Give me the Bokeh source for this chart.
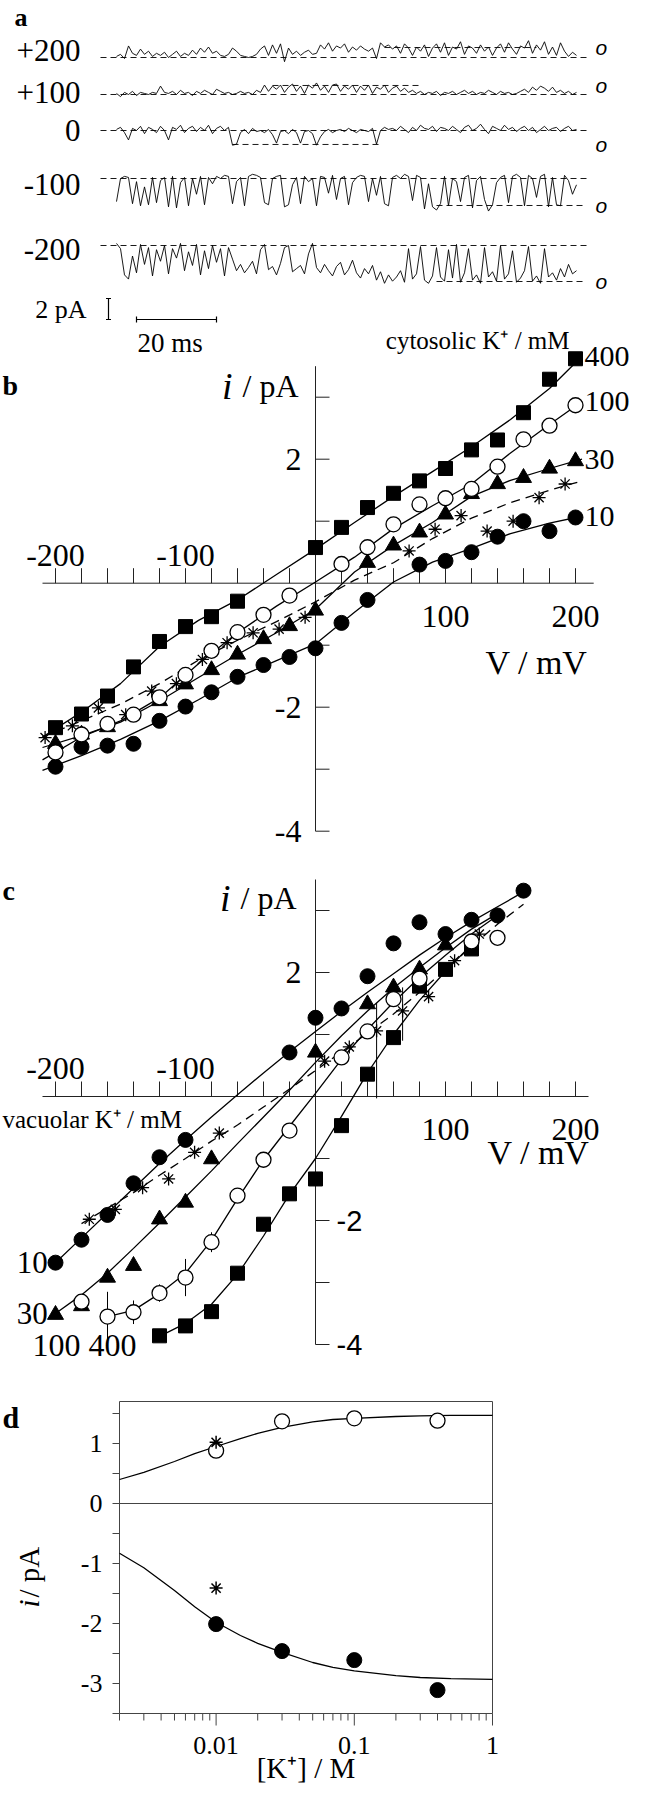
import math
from bokeh.plotting import figure
from bokeh.models import Range1d
from bokeh.layouts import column
from bokeh.embed import file_html
from bokeh.resources import INLINE
from bokeh.core.properties import value

SERIF = "Liberation Serif"
SANS = "Liberation Sans"

# ======================= DATA =======================
# ---- panel a: single-channel records, pA relative to closed level, 1 ms/sample
a_voltages = ["+200", "+100", "0", "-100", "-200"]
a_time_ms = list(range(116))
a_trace_p200 = [0.1, 0.3, -0.1, 1.1, 0.4, 0.2, 0.8, 0.3, 0.6, 0.1,
                0.4, 0.2, 0.5, 0.0, 0.3, 0.6, 0.1, 0.4, 0.2, 0.7,
                0.3, 0.9, 0.5, 1.0, 0.4, 0.6, 0.2, 0.1, 0.3, 0.9,
                0.6, 0.2, 0.1, 0.0, 0.1, 0.3, 0.8, 1.1, 0.2, 1.2,
                0.4, 1.3, -0.4, 0.9, 0.3, 0.6, 0.2, 0.5, 0.7, 0.3,
                0.4, 1.2, 0.8, 1.4, 0.6, 1.1, 0.9, 1.3, 0.5, 1.0,
                0.7, 1.1, 0.8, 0.6, 0.9, -0.1, 1.4, 1.0, 1.2, 0.8,
                1.1, 0.4, 1.3, 0.9, 0.2, 1.0, 0.6, 1.2, 0.1, 0.9,
                1.3, 0.5, 1.4, 0.2, 1.0, 0.8, 1.5, 0.3, 1.1, 0.9,
                0.4, 1.2, 0.6, 1.0, 0.2, 0.9, 1.3, 0.5, 1.4, 0.8,
                0.3, 1.1, 0.9, 1.6, 0.4, 1.2, 0.7, 1.5, 0.3, 1.0,
                0.2, 1.4, 0.6, 0.1, 0.5, 0.2]
a_trace_p100 = [0.1, -0.2, 0.2, 0.0, 0.3, -0.1, 0.2, 0.1, 0.0, 0.2,
                0.1, 0.8, 0.2, 0.1, 0.3, 0.0, 0.4, 0.1, 0.2, -0.1,
                0.3, 0.1, 0.4, 0.2, 0.0, 0.5, 0.3, 0.1, 0.2, 0.0,
                0.1, 0.3, 0.1, 0.2, 0.0, 0.4, 0.2, 0.9, 0.3, 0.8,
                0.5, 0.9, 0.2, 0.7, 1.0, 0.3, 0.8, 0.1, 0.9, 0.6,
                1.1, 0.4, 0.8, 0.2, 0.9, 1.0, 0.3, 0.8, 0.5, 0.9,
                0.2, 0.8, 0.4, 0.9, 0.1, 0.7, 0.5, 0.9, 0.2, 0.6,
                0.8, 0.3, 0.6, 0.2, 0.4, 0.1, 0.3, 0.0, 0.2, 0.1,
                0.3, -0.1, 0.2, 0.1, 0.3, 0.0, 0.2, 0.4, 0.1, 0.3,
                0.0, 0.2, 0.1, 0.4, 0.2, 0.0, 0.3, 0.1, 0.2, 0.0,
                0.1, 0.3, 0.5, 0.2, 0.7, 0.4, 0.8, 0.6, 0.3, 0.7,
                0.2, 0.4, 0.1, 0.3, 0.0, 0.2]
a_trace_0 = [0.1, 0.3, -0.2, -0.9, 0.2, 0.0, 0.4, -0.3, 0.3, 0.1,
             -0.2, 0.4, 0.0, -0.9, 0.3, 0.1, 0.5, -0.2, 0.2, 0.4,
             -0.1, 0.3, 0.0, 0.5, -0.3, 0.2, 0.4, 0.0, 0.3, -1.4,
             -1.3, -0.2, 0.1, -0.3, 0.2, -0.1, 0.0, -0.2, 0.1, -0.4,
             -1.2, -0.1, 0.0, -0.3, 0.1, -0.2, -1.2, -0.1, 0.0, -0.3,
             -1.4, -0.6, -0.1, 0.1, -0.2, 0.0, 0.1, -0.1, 0.2, 0.0,
             -0.2, 0.1, 0.0, -0.1, 0.2, -1.3, 0.0, 0.3, 0.1, 0.2,
             0.0, 0.4, 0.1, -0.2, 0.3, 0.0, 0.5, 0.2, 0.1, 0.4,
             -0.1, 0.3, 0.2, 0.0, 0.4, 0.1, -0.2, 0.3, 0.5, 0.0,
             0.2, 0.6, 0.1, -0.3, 0.4, 0.2, 0.0, 0.5, 0.1, 0.3,
             -0.1, 0.2, 0.4, 0.0, 0.3, -0.2, 0.1, 0.4, 0.0, 0.2,
             0.3, -0.1, 0.2, 0.4, 0.0, 0.1]
a_trace_m100 = [-2.2, 0.0, 0.2, 0.1, -2.4, -0.3, -2.6, -0.8, -2.5, 0.1,
                -2.3, -0.2, 0.1, -2.7, 0.2, -2.8, -0.4, 0.1, -2.6, 0.0,
                -1.5, 0.2, -2.5, 0.1, -0.5, 0.2, 0.0, 0.3, 0.2, -2.4,
                -0.3, 0.1, -2.6, 0.2, 0.4, 0.3, 0.1, -2.3, -2.5, 0.0,
                0.2, 0.3, -2.7, -2.5, -0.6, 0.1, -2.4, 0.2, -0.3, 0.0,
                -2.6, 0.2, 0.1, -1.4, 0.3, -2.0, 0.0, 0.2, -2.5, -0.4,
                0.1, 0.3, 0.2, -2.2, 0.0, -1.6, 0.2, -2.4, -2.6, 0.1,
                0.3, 0.0, 0.4, 0.2, -2.1, 0.3, 0.1, -2.9, -0.5, -2.7,
                -3.0, -2.4, 0.2, -2.6, 0.0, -0.3, -2.2, 0.1, 0.3, -2.8,
                -0.2, 0.2, -2.0, -3.1, -2.5, -0.4, 0.1, 0.3, -2.3, 0.2,
                0.4, 0.1, -2.6, 0.3, 0.0, -1.8, 0.2, 0.4, -2.7, 0.1,
                -2.5, -2.6, 0.3, -0.2, -1.5, -0.6]
a_trace_m200 = [0.2, -0.3, -2.8, -3.2, -1.0, -2.6, 0.1, -1.8, -0.2, -2.9,
                -0.4, -1.5, 0.0, -2.7, -0.3, -1.2, 0.2, -2.4, -0.6, -1.9,
                0.1, -2.8, -0.5, -2.2, 0.0, -1.6, -0.3, -2.9, -0.2, -1.3,
                -2.4, -1.8, -2.6, -2.1, -1.5, -2.7, -0.4, 0.1, -2.3, -2.0,
                -2.8, -1.7, -0.2, 0.0, -2.5, -2.2, -1.9, -2.7, -0.8, 0.2,
                -2.1, -2.6, -1.8, -2.4, -2.9, -2.0, -1.6, -2.8, -2.3, -1.4,
                -2.6, -3.1, -2.2, -2.7, -1.9, -3.3, -2.5, -3.6, -2.8, -3.4,
                -3.0, -2.4, -3.5, -0.3, -3.2, -2.7, -0.1, -3.3, -3.6, -2.9,
                -0.2, -3.0, -3.4, -0.4, -3.1, 0.1, -3.5, -2.6, -0.3, -3.3,
                -2.8, -3.6, -0.2, -3.0, -2.5, -3.4, 0.0, -3.2, -2.7, -0.5,
                -3.5, -3.1, -2.4, -0.1, -3.4, -2.9, -3.6, -0.3, -3.0, -2.6,
                -3.3, -2.2, -3.0, -1.8, -2.7, -2.4]
a_open_level = [0.95, 0.86, -1.33, -2.57, -3.43]
a_open_from_ms = [67, 39, 29, 80, 80]
a_open_to_ms = [105, 76, 66, 117, 117]
a_scale_ms = 20
a_scale_pa = 2

# ---- panel b: cytosolic K+ series (V in mV, i in pA)
b_sq_v = [-200, -180, -160, -140, -120, -100, -80, -60, 0, 20, 40, 60, 80, 100, 120, 140, 160, 180, 200]
b_sq_i = [-2.33, -2.11, -1.82, -1.35, -0.94, -0.70, -0.54, -0.29, 0.575, 0.90, 1.22, 1.45, 1.65, 1.85, 2.15, 2.31, 2.75, 3.29, 3.62]
b_oc_v = [-200, -180, -160, -140, -120, -100, -80, -60, -40, -20, 20, 40, 60, 80, 100, 120, 140, 160, 180, 200]
b_oc_i = [-2.73, -2.44, -2.27, -2.12, -1.84, -1.48, -1.09, -0.79, -0.51, -0.20, 0.31, 0.58, 0.95, 1.27, 1.37, 1.52, 1.88, 2.32, 2.54, 2.87]
b_tr_v = [-200, -180, -160, -120, -100, -80, -60, -40, -20, 0, 40, 60, 80, 100, 120, 140, 160, 180, 200]
b_tr_i = [-2.59, -2.44, -2.32, -1.90, -1.63, -1.40, -1.15, -0.90, -0.69, -0.44, 0.33, 0.61, 0.82, 1.11, 1.44, 1.60, 1.70, 1.85, 1.97]
b_fc_v = [-200, -180, -160, -140, -120, -100, -80, -60, -40, -20, 0, 20, 40, 80, 100, 120, 140, 160, 180, 200]
b_fc_i = [-2.96, -2.64, -2.62, -2.59, -2.22, -1.99, -1.76, -1.51, -1.32, -1.19, -1.05, -0.64, -0.27, 0.30, 0.36, 0.50, 0.75, 1.00, 0.84, 1.06]
b_st_v = [-208, -187, -167, -146, -126, -107, -87, -68, -48, -28, -8, 72, 92, 112, 132, 152, 172, 192]
b_st_i = [-2.49, -2.30, -2.01, -2.12, -1.74, -1.62, -1.23, -0.96, -0.80, -0.74, -0.55, 0.52, 0.87, 1.09, 0.84, 1.00, 1.38, 1.60]
b_fit_v = [-210, -180, -150, -120, -90, -60, -30, 0, 30, 60, 90, 120, 150, 180, 205]
b_fit_400 = [-2.48, -2.08, -1.62, -1.02, -0.60, -0.27, 0.14, 0.55, 0.98, 1.40, 1.80, 2.20, 2.64, 3.14, 3.66]
b_fit_100 = [-2.85, -2.48, -2.22, -1.85, -1.30, -0.80, -0.37, 0.02, 0.42, 0.88, 1.25, 1.60, 2.10, 2.56, 2.93]
b_fit_30 = [-2.65, -2.46, -2.24, -1.90, -1.52, -1.15, -0.80, -0.42, 0.18, 0.61, 0.98, 1.40, 1.66, 1.85, 2.00]
b_fit_10 = [-3.02, -2.78, -2.52, -2.22, -1.88, -1.52, -1.25, -0.98, -0.47, 0.02, 0.34, 0.56, 0.80, 0.97, 1.08]
b_fit_st = [-2.48, -2.22, -1.95, -1.62, -1.24, -0.92, -0.62, -0.30, 0.05, 0.33, 0.72, 1.05, 1.30, 1.50, 1.65]
b_labels = ["400", "100", "30", "10"]
iv_xticks = list(range(-200, 201, 20))
iv_xlabels_above = [-200, -100]
iv_xlabels_below = [100, 200]
iv_yticks = [-4, -3, -2, -1, 1, 2, 3]
b_ylabels = [2, -2, -4]

# ---- panel c: vacuolar K+ series
c_fc_v = [-200, -180, -160, -140, -120, -100, -20, 0, 20, 40, 60, 80, 100, 120, 140, 160]
c_fc_i = [-2.68, -2.31, -1.91, -1.40, -0.98, -0.70, 0.71, 1.27, 1.42, 1.94, 2.47, 2.81, 2.62, 2.85, 2.92, 3.32]
c_tr_v = [-200, -180, -160, -140, -120, -100, -80, 0, 40, 60, 80, 100]
c_tr_i = [-3.52, -3.38, -2.92, -2.73, -1.98, -1.71, -1.01, 0.71, 1.49, 1.76, 2.05, 2.44]
c_oc_v = [-180, -160, -140, -120, -100, -80, -60, -40, -20, 20, 40, 60, 80, 120, 140]
c_oc_i = [-3.31, -3.55, -3.48, -3.17, -2.92, -2.35, -1.60, -1.02, -0.55, 0.63, 1.05, 1.57, 1.90, 2.50, 2.56]
c_oc_err = [0.0, 0.40, 0.19, 0.14, 0.30, 0.16, 0.0, 0.0, 0.0, 0.0, 0.0, 0.0, 0.0, 0.0, 0.0]
c_sq_v = [-120, -100, -80, -60, -40, -20, 0, 20, 40, 60, 80, 100, 120]
c_sq_i = [-3.86, -3.70, -3.47, -2.85, -2.06, -1.57, -1.33, -0.47, 0.36, 0.95, 1.78, 2.05, 2.38]
c_st_v = [-174, -154, -133, -113, -93, -74, 7, 26, 47, 67, 87, 107, 126]
c_st_i = [-1.98, -1.82, -1.47, -1.33, -0.90, -0.59, 0.57, 0.80, 1.06, 1.38, 1.61, 2.19, 2.62]
c_st_err_v = [47, 67]
c_st_err_lo = [-0.03, 0.90]
c_st_err_hi = [1.51, 1.76]
c_fit10_v = [-200, -180, -160, -140, -120, -100, -80, -60, -40, -20, 0, 20, 40, 60, 80, 100, 120, 140, 160]
c_fit10_i = [-2.68, -2.28, -1.88, -1.48, -1.08, -0.70, -0.33, 0.03, 0.38, 0.72, 1.05, 1.37, 1.68, 1.98, 2.28, 2.56, 2.82, 3.06, 3.30]
c_fit30_v = [-200, -180, -160, -140, -120, -100, -80, -60, -40, -20, 0, 20, 40, 60, 80, 100, 120, 140]
c_fit30_i = [-3.50, -3.20, -2.85, -2.45, -2.04, -1.62, -1.20, -0.76, -0.33, 0.10, 0.55, 0.98, 1.38, 1.75, 2.08, 2.40, 2.70, 2.95]
c_fit100_v = [-160, -140, -120, -100, -80, -60, -40, -20, 0, 20, 40, 60, 80, 100, 120, 140]
c_fit100_i = [-3.55, -3.45, -3.18, -2.85, -2.32, -1.65, -1.02, -0.48, 0.05, 0.60, 1.08, 1.52, 1.92, 2.28, 2.62, 2.92]
c_fit400_v = [-120, -100, -80, -60, -40, -20, 0, 20, 40, 60, 80, 100, 120]
c_fit400_i = [-3.87, -3.66, -3.35, -2.87, -2.25, -1.58, -1.00, -0.32, 0.38, 1.00, 1.55, 2.02, 2.45]
c_fitst_v = [-180, -160, -140, -120, -100, -80, -60, -40, -20, 0, 20, 40, 60, 80, 100, 120, 140, 160]
c_fitst_i = [-2.05, -1.80, -1.55, -1.27, -1.00, -0.72, -0.46, -0.17, 0.12, 0.42, 0.72, 1.02, 1.33, 1.68, 2.05, 2.42, 2.78, 3.10]
c_left_labels = ["10", "30"]
c_ylabels_left = [2]
c_ylabels_right = [-2, -4]

# ---- panel d: unitary current vs [K+]
d_k = [0.01, 0.03, 0.1, 0.4]
d_i_pos = [0.88, 1.37, 1.42, 1.38]
d_i_neg = [-2.01, -2.46, -2.61, -3.11]
d_star_k = [0.01, 0.01]
d_star_i = [1.02, -1.41]
d_fit_k = [0.002, 0.003, 0.005, 0.007, 0.01, 0.015, 0.02, 0.03, 0.05, 0.07, 0.1, 0.2, 0.3, 0.5, 1.0]
d_fit_pos = [0.40, 0.52, 0.70, 0.83, 0.95, 1.08, 1.17, 1.27, 1.36, 1.40, 1.42, 1.45, 1.46, 1.47, 1.47]
d_fit_neg = [-0.83, -1.07, -1.45, -1.72, -1.98, -2.20, -2.33, -2.48, -2.65, -2.73, -2.79, -2.87, -2.90, -2.92, -2.93]
d_xticks_major = [0.01, 0.1, 1.0]
d_xtick_labels = ["0.01", "0.1", "1"]
d_xticks_minor = [0.002, 0.003, 0.004, 0.005, 0.006, 0.007, 0.008, 0.009,
                  0.02, 0.03, 0.04, 0.05, 0.06, 0.07, 0.08, 0.09,
                  0.2, 0.3, 0.4, 0.5, 0.6, 0.7, 0.8, 0.9]
d_yticks = [-3.5, -3, -2.5, -2, -1.5, -1, -0.5, 0, 0.5, 1, 1.5]
d_ylabels = [-3, -2, -1, 0, 1]
d_k_min, d_k_max = 0.002, 1.0
d_i_min, d_i_max = -3.5, 1.7

# ======================= LAYOUT (page pixels) =======================
W = 638
H1 = 1362
H2 = 422
PAGE_L, PAGE_T = 8, 8
PAGE_R = PAGE_L + W
FIG1_B = PAGE_T + H1
V0_X = 323.0
MV_PX = 1.3
B_ZERO_Y = 590.7
C_ZERO_Y = 1104.0
PA_PX = 62.0
A_T0_X = 124.0
MS_PX = 4.0
A_PA_PX = 10.5
a_row_y = [65, 102, 138, 186, 253]
a_label_y = [58, 100, 138, 192, 257]
AX = "#222"

p = figure(width=W, height=H1, output_backend="svg", toolbar_location=None,
           x_axis_location=None, y_axis_location=None, min_border=0,
           outline_line_color=None,
           x_range=Range1d((PAGE_L - V0_X) / MV_PX, (PAGE_R - V0_X) / MV_PX),
           y_range=Range1d((B_ZERO_Y - FIG1_B) / PA_PX, (B_ZERO_Y - PAGE_T) / PA_PX))
p.xgrid.visible = False
p.ygrid.visible = False
p.extra_x_ranges = {"ms": Range1d((PAGE_L - A_T0_X) / MS_PX, (PAGE_R - A_T0_X) / MS_PX),
                    "px": Range1d(PAGE_L, PAGE_R)}
p.extra_y_ranges = {"c": Range1d((C_ZERO_Y - FIG1_B) / PA_PX, (C_ZERO_Y - PAGE_T) / PA_PX),
                    "a": Range1d(-FIG1_B / A_PA_PX, -PAGE_T / A_PA_PX),
                    "py": Range1d(FIG1_B, PAGE_T)}


def tx(fig, xs, ys, texts, size, align="left", font=SERIF, style="normal", baseline="middle", angle=0.0, **kw):
    fig.text(x=xs, y=ys, text=texts, text_font=value(font), text_font_size=value(f"{size}px"),
             text_font_style=value(style), text_align=value(align), text_baseline=value(baseline),
             text_color="black", angle=angle, **kw)


def ptext(x, y, s, size, **kw):
    tx(p, [x], [y], [s], size, x_range_name="px", y_range_name="py", **kw)


# ---------------- panel a ----------------
ptext(22, 10, "a", 26, style="bold", baseline="top")
traces = [a_trace_p200, a_trace_p100, a_trace_0, a_trace_m100, a_trace_m200]
t_lo = (108 - A_T0_X) / MS_PX
t_hi = (597 - A_T0_X) / MS_PX
t_o = (603 - A_T0_X) / MS_PX
for k, tr in enumerate(traces):
    base = -a_row_y[k] / A_PA_PX
    p.line([t_lo, t_hi], [base, base], x_range_name="ms", y_range_name="a",
           line_color="black", line_width=0.9, line_dash="6 4")
    lvl = base + a_open_level[k]
    p.line([a_open_from_ms[k], a_open_to_ms[k]], [lvl, lvl], x_range_name="ms", y_range_name="a",
           line_color="black", line_width=0.9, line_dash="6 4")
    p.line(a_time_ms, [base + v for v in tr], x_range_name="ms", y_range_name="a",
           line_color="black", line_width=0.9)
    tx(p, [t_o], [lvl], ["o"], 21, align="left", font=SANS, style="italic",
       x_range_name="ms", y_range_name="a")
    ptext(88, a_label_y[k], a_voltages[k], 31, align="right")

# scale bars
sb_t = (116 - A_T0_X) / MS_PX
sb_y0 = -327 / A_PA_PX
capx = 2.5 / MS_PX
p.segment(x0=[sb_t, sb_t - capx, sb_t - capx], y0=[sb_y0, sb_y0, sb_y0 + a_scale_pa],
          x1=[sb_t, sb_t + capx, sb_t + capx], y1=[sb_y0 + a_scale_pa, sb_y0, sb_y0 + a_scale_pa],
          x_range_name="ms", y_range_name="a", line_color="black", line_width=1.2)
hb_t0 = (144 - A_T0_X) / MS_PX
vc = 3 / A_PA_PX
p.segment(x0=[hb_t0, hb_t0, hb_t0 + a_scale_ms], y0=[sb_y0, sb_y0 - vc, sb_y0 - vc],
          x1=[hb_t0 + a_scale_ms, hb_t0, hb_t0 + a_scale_ms], y1=[sb_y0, sb_y0 + vc, sb_y0 + vc],
          x_range_name="ms", y_range_name="a", line_color="black", line_width=1.2)
ptext(94, 317, f"{a_scale_pa} pA", 26, align="right")
ptext(145, 350, f"{a_scale_ms} ms", 27)


# ---------------- manual IV axes ----------------
def iv_axes(yr, x_hi, right_labels, left_labels, label_font):
    kw = {} if yr == "default" else {"y_range_name": yr}
    p.line([-210, x_hi], [0, 0], line_color=AX, line_width=1, **kw)
    n = len(iv_xticks)
    p.segment(x0=iv_xticks, x1=iv_xticks, y0=[0] * n, y1=[15 / PA_PX] * n, line_color=AX, line_width=1, **kw)
    tx(p, iv_xlabels_above, [28 / PA_PX] * len(iv_xlabels_above), [str(v) for v in iv_xlabels_above], 32,
       align="center", **kw)
    tx(p, iv_xlabels_below, [-33 / PA_PX] * len(iv_xlabels_below), [str(v) for v in iv_xlabels_below], 32,
       align="center", **kw)
    p.line([0, 0], [-4, 3.5], line_color=AX, line_width=1, **kw)
    m = len(iv_yticks)
    p.segment(x0=[0] * m, x1=[14 / MV_PX] * m, y0=iv_yticks, y1=iv_yticks, line_color=AX, line_width=1, **kw)
    if left_labels:
        tx(p, [-14 / MV_PX] * len(left_labels), left_labels, [str(v) for v in left_labels], 32,
           align="right", **kw)
    if right_labels:
        tx(p, [21 / MV_PX] * len(right_labels), right_labels, [str(v) for v in right_labels], 29,
           align="left", font=label_font, **kw)


# ---------------- panel b ----------------
iv_axes("default", 214, [], b_ylabels, SERIF)
for fit in [b_fit_400, b_fit_100, b_fit_30, b_fit_10]:
    p.line(b_fit_v, fit, line_color="black", line_width=1.3)
p.line(b_fit_v, b_fit_st, line_color="black", line_width=1.3, line_dash="9 6")
p.scatter(b_st_v, b_st_i, marker="asterisk", size=13, line_color="black", line_width=1.3)
p.scatter(b_sq_v, b_sq_i, marker="square", size=14, fill_color="black", line_color="black")
p.scatter(b_fc_v, b_fc_i, marker="circle", size=15, fill_color="black", line_color="black")
p.scatter(b_tr_v, b_tr_i, marker="triangle", size=16, fill_color="black", line_color="black")
p.scatter(b_oc_v, b_oc_i, marker="circle", size=15, fill_color="white", line_color="black", line_width=1.3)
tx(p, [b_fit_v[-1] + 2] * 4, [f[-1] for f in [b_fit_400, b_fit_100, b_fit_30, b_fit_10]], b_labels, 30)

ptext(10, 393, "b", 28, style="bold")
ptext(240, 393, "i", 38, align="right", style="italic")
ptext(250, 393, "/ pA", 32)
ptext(577, 348, "cytosolic K\u207a / mM", 25, align="right")
ptext(493, 670, "V / mV", 34)

# ---------------- panel c ----------------
iv_axes("c", 210, c_ylabels_right, c_ylabels_left, SANS)
for fv, fi in [(c_fit10_v, c_fit10_i), (c_fit30_v, c_fit30_i), (c_fit100_v, c_fit100_i), (c_fit400_v, c_fit400_i)]:
    p.line(fv, fi, y_range_name="c", line_color="black", line_width=1.3)
p.line(c_fitst_v, c_fitst_i, y_range_name="c", line_color="black", line_width=1.3, line_dash="9 6")
p.segment(x0=c_oc_v, x1=c_oc_v, y0=[a - e for a, e in zip(c_oc_i, c_oc_err)],
          y1=[a + e for a, e in zip(c_oc_i, c_oc_err)], y_range_name="c", line_color="black", line_width=1)
p.segment(x0=c_st_err_v, x1=c_st_err_v, y0=c_st_err_lo, y1=c_st_err_hi, y_range_name="c",
          line_color="black", line_width=1)
p.scatter(c_st_v, c_st_i, y_range_name="c", marker="asterisk", size=13, line_color="black", line_width=1.3)
p.scatter(c_sq_v, c_sq_i, y_range_name="c", marker="square", size=14, fill_color="black", line_color="black")
p.scatter(c_fc_v, c_fc_i, y_range_name="c", marker="circle", size=15, fill_color="black", line_color="black")
p.scatter(c_tr_v, c_tr_i, y_range_name="c", marker="triangle", size=16, fill_color="black", line_color="black")
p.scatter(c_oc_v, c_oc_i, y_range_name="c", marker="circle", size=15, fill_color="white", line_color="black",
          line_width=1.3)
tx(p, [-206, -206], [c_fit10_i[0], c_fit30_i[0]], c_left_labels, 31, align="right", y_range_name="c")

ptext(10, 898, "c", 28, style="bold")
ptext(238, 905, "i", 38, align="right", style="italic")
ptext(248, 905, "/ pA", 32)
ptext(10, 1127, "vacuolar K\u207a / mM", 25)
ptext(495, 1160, "V / mV", 34)
ptext(40, 1352, "100 400", 32)

# ---------------- panel d (own log-x figure, box drawn from the scales) ----------------
Q_TOP = FIG1_B
Q_BOT = Q_TOP + H2
D_BOX_L, D_BOX_R = 127.0, 500.0
D_ZERO_Y = 1511.0
D_PA_PX = 60.0
dec_px = (D_BOX_R - D_BOX_L) / (math.log10(d_k_max) - math.log10(d_k_min))


def qx(page_x):
    return 10 ** (math.log10(d_k_min) + (page_x - D_BOX_L) / dec_px)


def qy(page_y):
    return (D_ZERO_Y - page_y) / D_PA_PX


q = figure(width=W, height=H2, output_backend="svg", toolbar_location=None,
           x_axis_type="log", x_axis_location=None, y_axis_location=None, min_border=0,
           outline_line_color=None,
           x_range=Range1d(qx(PAGE_L), qx(PAGE_R)), y_range=Range1d(qy(Q_BOT), qy(Q_TOP)))
q.xgrid.visible = False
q.ygrid.visible = False
BOX = "#444"
q.line([d_k_min, d_k_max, d_k_max, d_k_min, d_k_min], [d_i_min, d_i_min, d_i_max, d_i_max, d_i_min],
       line_color=BOX, line_width=1)
q.line([d_k_min, d_k_max], [0, 0], line_color=BOX, line_width=1)
n1, n2 = len(d_xticks_major), len(d_xticks_minor)
q.segment(x0=d_xticks_major, x1=d_xticks_major, y0=[d_i_min] * n1, y1=[d_i_min - 12 / D_PA_PX] * n1,
          line_color=BOX, line_width=1)
q.segment(x0=d_xticks_minor, x1=d_xticks_minor, y0=[d_i_min] * n2, y1=[d_i_min - 7 / D_PA_PX] * n2,
          line_color=BOX, line_width=1)
ny = len(d_yticks)
q.segment(x0=[d_k_min] * ny, x1=[qx(D_BOX_L - 7)] * ny, y0=d_yticks, y1=d_yticks, line_color=BOX, line_width=1)
tx(q, [qx(D_BOX_L - 17)] * len(d_ylabels), d_ylabels, [str(v) for v in d_ylabels], 26, align="right")
tx(q, d_xticks_major, [qy(1753)] * n1, d_xtick_labels, 26, align="center")

q.line(d_fit_k, d_fit_pos, line_color="black", line_width=1.3)
q.line(d_fit_k, d_fit_neg, line_color="black", line_width=1.3)
q.scatter(d_k, d_i_pos, marker="circle", size=15, fill_color="white", line_color="black", line_width=1.3)
q.scatter(d_k, d_i_neg, marker="circle", size=15, fill_color="black", line_color="black")
q.scatter(d_star_k, d_star_i, marker="asterisk", size=13, line_color="black", line_width=1.5)

tx(q, [qx(10)], [qy(1425)], ["d"], 30, align="left", style="bold")
tx(q, [qx(36)], [qy(1615)], ["i"], 29, style="italic", angle=math.pi / 2)
tx(q, [qx(36)], [qy(1605)], ["/ pA"], 29, angle=math.pi / 2)
tx(q, [qx((D_BOX_L + D_BOX_R) / 2)], [qy(1775)], ["[K\u207a] / M"], 29, align="center")

layout = column(p, q, spacing=0)
open("out.html", "w").write(file_html(layout, INLINE))
